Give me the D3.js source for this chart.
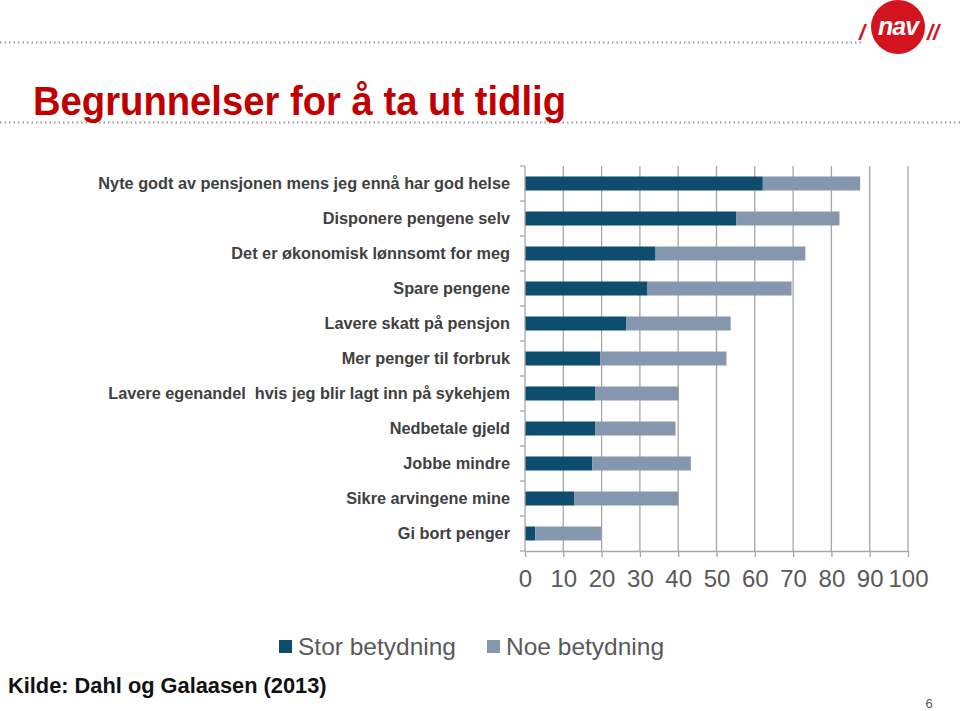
<!DOCTYPE html>
<html>
<head>
<meta charset="utf-8">
<script src="https://cdn.jsdelivr.net/npm/d3@7"></script>
<style>
  body { margin: 0; background: #fff; }
  svg { display: block; font-family: "Liberation Sans", Arial, sans-serif; }
</style>
</head>
<body>
<div id="chart-area"></div>
<script>
// Data
var categories = [
    "Nyte godt av pensjonen mens jeg ennå har god helse",
    "Disponere pengene selv",
    "Det er økonomisk lønnsomt for meg",
    "Spare pengene",
    "Lavere skatt på pensjon",
    "Mer penger til forbruk",
    "Lavere egenandel  hvis jeg blir lagt inn på sykehjem",
    "Nedbetale gjeld",
    "Jobbe mindre",
    "Sikre arvingene mine",
    "Gi bort penger"
];
var stor = [62.1, 55.1, 34.1, 32.0, 26.5, 19.7, 18.4, 18.4, 17.6, 12.8, 2.7];
var noe = [25.4, 27.0, 39.1, 37.6, 27.2, 32.9, 21.7, 20.9, 25.7, 27.2, 17.2];
var seriesNames = ["Stor betydning", "Noe betydning"];
var seriesColors = ["#0e4d6e", "#8597ae"];
var xTicks = [0, 10, 20, 30, 40, 50, 60, 70, 80, 90, 100];

var W = 960, H = 711;
var margin = { top: 166, left: 525 };
var width = 383;
var height = 385;

var svg = d3.select("#chart-area")
    .append("svg")
    .attr("width", W)
    .attr("height", H);

// dotted rules
svg.append("line")
    .attr("x1", 0).attr("x2", 862).attr("y1", 42.5).attr("y2", 42.5)
    .attr("stroke", "#9a9a9a").attr("stroke-width", 2)
    .attr("stroke-dasharray", "1.5,3");
svg.append("line")
    .attr("x1", 0).attr("x2", W).attr("y1", 122.5).attr("y2", 122.5)
    .attr("stroke", "#9a9a9a").attr("stroke-width", 2)
    .attr("stroke-dasharray", "1.5,3");

// logo
var logo = svg.append("g").attr("transform", "translate(898, 27)");
logo.append("circle").attr("r", 27).attr("fill", "#d2141e");
logo.append("text")
    .attr("y", 8).attr("text-anchor", "middle")
    .attr("font-size", "25px").attr("font-weight", "bold")
    .attr("font-style", "italic").attr("fill", "#fff")
    .attr("letter-spacing", "-1")
    .text("nav");
logo.append("text")
    .attr("x", -36).attr("y", 13).attr("text-anchor", "middle")
    .attr("font-size", "22px").attr("font-weight", "bold")
    .attr("font-style", "italic").attr("fill", "#d2141e")
    .text("/");
logo.append("text")
    .attr("x", 35).attr("y", 13).attr("text-anchor", "middle")
    .attr("font-size", "22px").attr("font-weight", "bold")
    .attr("font-style", "italic").attr("fill", "#d2141e")
    .text("//");

// title (condensed look)
svg.append("text")
    .attr("x", 33).attr("y", 115)
    .attr("font-size", "41px").attr("font-weight", "bold")
    .attr("fill", "#c00000")
    .attr("textLength", 533)
    .attr("lengthAdjust", "spacingAndGlyphs")
    .text("Begrunnelser for å ta ut tidlig");

var g = svg.append("g")
    .attr("transform", "translate(" + margin.left + ", " + margin.top + ")");

// scales
var x = d3.scaleLinear().domain([0, 100]).range([0, width]);
var y = d3.scaleBand().domain(categories).range([0, height]).paddingInner(0.6).paddingOuter(0.3);
var yOuter = d3.scaleBand().domain(categories).range([0, height]);

// gridlines
g.selectAll("line.grid")
    .data(xTicks.slice(1))
    .enter().append("line")
    .attr("class", "grid")
    .attr("x1", (d) => x(d)).attr("x2", (d) => x(d))
    .attr("y1", 0).attr("y2", height)
    .attr("stroke", "#a6a6a6").attr("stroke-width", 1.3);

// stacked bars
var stackData = categories.map((c, i) => ({ cat: c, stor: stor[i], noe: noe[i] }));
var stack = d3.stack().keys(["stor", "noe"])(stackData);

g.selectAll("g.series")
    .data(stack)
    .enter().append("g")
    .attr("class", "series")
    .attr("fill", (d, i) => seriesColors[i])
    .selectAll("rect")
    .data((d) => d)
    .enter().append("rect")
    .attr("x", (d) => x(d[0]))
    .attr("y", (d) => y(d.data.cat))
    .attr("width", (d) => x(d[1]) - x(d[0]))
    .attr("height", y.bandwidth());

// bottom axis
var bottomAxis = d3.axisBottom(x).tickValues(xTicks).tickSize(6).tickSizeOuter(0);
var bx = g.append("g")
    .attr("transform", "translate(0, " + height + ")")
    .call(bottomAxis);
bx.select(".domain").attr("stroke", "#a6a6a6").attr("stroke-width", 1.3);
bx.selectAll(".tick line").attr("stroke", "#a6a6a6").attr("stroke-width", 1.3);
bx.selectAll("text")
    .attr("y", 19)
    .attr("font-size", "24px")
    .attr("font-family", "Liberation Sans, Arial, sans-serif")
    .attr("fill", "#595959");

// left axis line + boundary ticks
g.append("line")
    .attr("x1", 0).attr("x2", 0).attr("y1", 0).attr("y2", height)
    .attr("stroke", "#a6a6a6").attr("stroke-width", 1.3);
var bounds = categories.map((c) => yOuter(c)).concat([height]);
g.selectAll("line.ytick")
    .data(bounds)
    .enter().append("line")
    .attr("class", "ytick")
    .attr("x1", -5).attr("x2", 0)
    .attr("y1", (d) => d).attr("y2", (d) => d)
    .attr("stroke", "#a6a6a6").attr("stroke-width", 1.3);

// category labels
g.selectAll("text.cat")
    .data(categories)
    .enter().append("text")
    .attr("class", "cat")
    .attr("x", -15)
    .attr("y", (d) => yOuter(d) + yOuter.bandwidth() / 2)
    .attr("dy", "0.35em")
    .attr("text-anchor", "end")
    .attr("font-size", "16.3px")
    .attr("font-weight", "bold")
    .attr("fill", "#404040")
    .style("white-space", "pre")
    .text((d) => d);

// legend
var legendX = [279, 487];
var legend = svg.selectAll("g.legend")
    .data(seriesNames)
    .enter().append("g")
    .attr("class", "legend")
    .attr("transform", (d, i) => "translate(" + legendX[i] + ", 640)");
legend.append("rect")
    .attr("width", 13).attr("height", 13)
    .attr("fill", (d, i) => seriesColors[i]);
legend.append("text")
    .attr("x", 19).attr("y", 15)
    .attr("font-size", "24.5px")
    .attr("fill", "#595959")
    .text((d) => d);

// source
svg.append("text")
    .attr("x", 8).attr("y", 693)
    .attr("font-size", "21.8px").attr("font-weight", "bold")
    .attr("fill", "#111")
    .text("Kilde: Dahl og Galaasen (2013)");

// page number
svg.append("text")
    .attr("x", 929).attr("y", 708)
    .attr("font-size", "13px")
    .attr("fill", "#555")
    .attr("text-anchor", "middle")
    .text("6");
</script>
</body>
</html>
